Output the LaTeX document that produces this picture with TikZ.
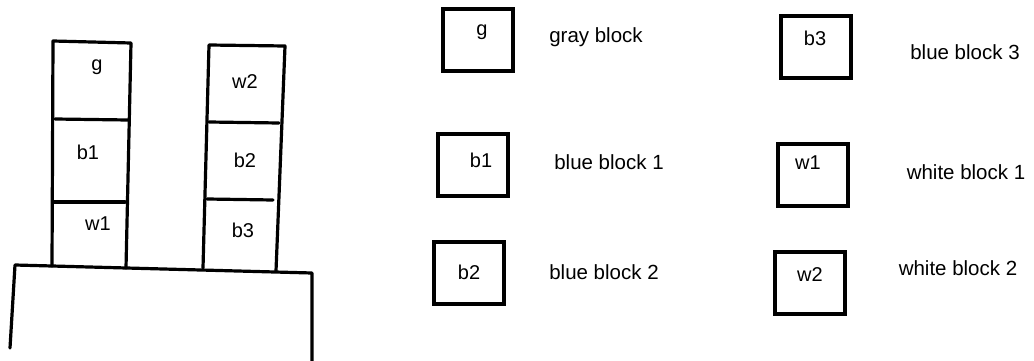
\documentclass[tikz,border=0pt]{standalone}
\usepackage{fontspec}
\setmainfont{Liberation Sans}
\begin{document}
\begin{tikzpicture}[x=1pt,y=-1pt,
  stk/.style={line width=3.2pt, line cap=round, line join=round},
  legbox/.style={draw, line width=4pt, minimum width=70pt, minimum height=62pt, inner sep=0pt},
  lbl/.style={font=\fontsize{20}{22}\selectfont, inner sep=0pt},
  desc/.style={font=\fontsize{20.5}{22}\selectfont, inner sep=0pt}]
\useasboundingbox (0,0) rectangle (1034,361);
% table
\coordinate (t1) at (10,348);
\coordinate (t2) at (15,265);
\coordinate (t3) at (312,273);
\coordinate (t4) at (312,361);
\draw[stk] (t1) -- (t2) -- (t3) -- (t4);
% stack 1
\coordinate (a1) at (52,266);
\coordinate (a2) at (53,41);
\coordinate (a3) at (131,43);
\coordinate (a4) at (126,268);
\draw[stk] (a1) -- (a2) -- (a3) -- (a4);
\coordinate (d1l) at (55,119); \coordinate (d1r) at (128,120);
\coordinate (d2l) at (54,202); \coordinate (d2r) at (125,202);
\draw[stk] (d1l) -- (d1r);
\draw[stk] (d2l) -- (d2r);
\node[lbl] (s1g) at (97,67) {g};
\node[lbl] (s1b1) at (88,152) {b1};
\node[lbl] (s1w1) at (98,224) {w1};
% stack 2
\coordinate (c1) at (203,268);
\coordinate (c2) at (209,45);
\coordinate (c3) at (285,46);
\coordinate (c4) at (276,271);
\draw[stk] (c1) -- (c2) -- (c3) -- (c4);
\coordinate (e1l) at (209,122); \coordinate (e1r) at (279,123);
\coordinate (e2l) at (207,199); \coordinate (e2r) at (273,200);
\draw[stk] (e1l) -- (e1r);
\draw[stk] (e2l) -- (e2r);
\node[lbl] (s2w2) at (245,82) {w2};
\node[lbl] (s2b2) at (245,160) {b2};
\node[lbl] (s2b3) at (243,230) {b3};
% legend
\node[legbox] (lg) at (477.5,40.5) {};
\node[lbl] (lgt) at (482,32) {g};
\node[desc] (lgd) at (596,37) {gray block};
\node[legbox] (lb1) at (473,165) {};
\node[lbl] (lb1t) at (481,160) {b1};
\node[desc] (lb1d) at (609,162) {blue block 1};
\node[legbox] (lb2) at (468.5,273) {};
\node[lbl] (lb2t) at (469,272) {b2};
\node[desc] (lb2d) at (604,272) {blue block 2};
\node[legbox] (lb3) at (816,47) {};
\node[lbl] (lb3t) at (815,38) {b3};
\node[desc] (lb3d) at (965,52) {blue block 3};
\node[legbox] (lw1) at (812.5,174.5) {};
\node[lbl] (lw1t) at (808,163) {w1};
\node[desc] (lw1d) at (966,172) {white block 1};
\node[legbox] (lw2) at (809.5,282.5) {};
\node[lbl] (lw2t) at (810,275) {w2};
\node[desc] (lw2d) at (958,268) {white block 2};
\end{tikzpicture}
\end{document}
